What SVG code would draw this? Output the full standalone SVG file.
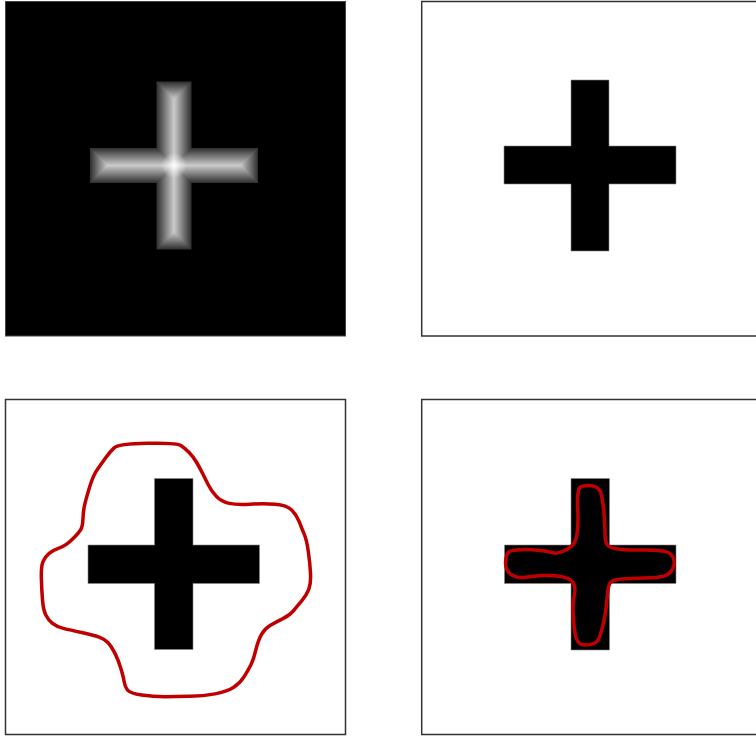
<svg xmlns="http://www.w3.org/2000/svg" width="756" height="736" viewBox="0 0 756 736">
<style>
.frame{fill:#fff;stroke:#333;stroke-width:1.5}
.cross{fill:#000;stroke:#888;stroke-width:0.6}
.contour{fill:none;stroke:#c00000;stroke-width:3.5;stroke-linejoin:round;stroke-linecap:round}
</style>
<defs>
<radialGradient id="glow" cx="174" cy="165.5" r="13" gradientUnits="userSpaceOnUse">
<stop offset="0" stop-color="#fff" stop-opacity="1"/>
<stop offset="0.5" stop-color="#fff" stop-opacity="0.45"/>
<stop offset="1" stop-color="#fff" stop-opacity="0"/>
</radialGradient>
</defs>
<rect width="756" height="736" fill="#fff"/>

<g id="panel-distance">
<rect x="5.5" y="1.5" width="340" height="334.5" fill="#000" stroke="#444" stroke-width="1"/>
<g id="dist-cross">
<path fill="#323232" d="M156.5 81.5h35v168h-35zM90 148h168v35h-168z"/>
<path fill="#3b3b3b" d="M157.5 82.5h33v166h-33zM91 149h166v33h-166z"/>
<path fill="#444444" d="M158.5 83.5h31v164h-31zM92 150h164v31h-164z"/>
<path fill="#4d4d4d" d="M159.5 84.5h29v162h-29zM93 151h162v29h-162z"/>
<path fill="#565656" d="M160.5 85.5h27v160h-27zM94 152h160v27h-160z"/>
<path fill="#5f5f5f" d="M161.5 86.5h25v158h-25zM95 153h158v25h-158z"/>
<path fill="#686868" d="M162.5 87.5h23v156h-23zM96 154h156v23h-156z"/>
<path fill="#717171" d="M163.5 88.5h21v154h-21zM97 155h154v21h-154z"/>
<path fill="#7a7a7a" d="M164.5 89.5h19v152h-19zM98 156h152v19h-152z"/>
<path fill="#838383" d="M165.5 90.5h17v150h-17zM99 157h150v17h-150z"/>
<path fill="#8c8c8c" d="M166.5 91.5h15v148h-15zM100 158h148v15h-148z"/>
<path fill="#959595" d="M167.5 92.5h13v146h-13zM101 159h146v13h-146z"/>
<path fill="#9e9e9e" d="M168.5 93.5h11v144h-11zM102 160h144v11h-144z"/>
<path fill="#a7a7a7" d="M169.5 94.5h9v142h-9zM103 161h142v9h-142z"/>
<path fill="#b0b0b0" d="M170.5 95.5h7v140h-7zM104 162h140v7h-140z"/>
<path fill="#b9b9b9" d="M171.5 96.5h5v138h-5zM105 163h138v5h-138z"/>
<path fill="#c2c2c2" d="M172.5 97.5h3v136h-3zM106 164h136v3h-136z"/>
<path fill="#cbcbcb" d="M173.5 98.5h1v134h-1zM107 165h134v1h-134z"/>
<circle cx="174" cy="165.5" r="13" fill="url(#glow)"/>
</g>
</g>

<g id="panel-binary">
<rect class="frame" x="421.7" y="1.5" width="340" height="334.5"/>
<path class="cross" d="M571 80h38v66h67v38h-67v67h-38v-67h-67v-38h67z"/>
</g>

<g id="panel-outer-contour">
<rect class="frame" x="5.5" y="399.5" width="340" height="335"/>
<path class="cross" d="M154.5 478.5h38.5v66.5h66.5v38.5h-66.5v66h-38.5v-66h-66.5v-38.5h66.5z"/>
<path class="contour" d="M114.15 447.85 Q118.3 444 147.5 443.35 Q176.7 442.7 180.85 445.5 Q185 448.3 189.15 452.5 Q193.3 456.7 196.65 462.5 Q200 468.3 202.5 473.3 Q205 478.3 208.35 485 Q211.7 491.7 216.7 496.7 Q221.7 501.7 229.2 503.35 Q236.7 505 250 504.15 Q263.3 503.3 275 504.15 Q286.7 505 291.7 510 Q296.7 515 299.2 521.65 Q301.7 528.3 304.2 534.15 Q306.7 540 308.35 551.65 Q310 563.3 310.5 573.3 Q311 583.3 308.85 589.15 Q306.7 595 301.7 600.85 Q296.7 606.7 293.35 610.85 Q290 615 283.35 618.35 Q276.7 621.7 270.85 625 Q265 628.3 261.65 634.15 Q258.3 640 255.8 650 Q253.3 660 250.8 665 Q248.3 670 244.15 676.65 Q240 683.3 233.35 687.5 Q226.7 691.7 215 693.85 Q203.3 696 190 696.35 Q176.7 696.7 165 696.7 Q153.3 696.7 141.65 695 Q130 693.3 127.5 690 Q125 686.7 124.15 681.7 Q123.3 676.7 120.8 668.35 Q118.3 660 115 653.35 Q111.7 646.7 108.35 643 Q105 639.3 99.15 637.15 Q93.3 635 81.65 632.5 Q70 630 63.35 628.35 Q56.7 626.7 52.5 623.35 Q48.3 620 45.8 615 Q43.3 610 42.5 600 Q41.7 590 41.35 578.35 Q41 566.7 43 561.7 Q45 556.7 49.15 553.35 Q53.3 550 58.3 548.35 Q63.3 546.7 66.65 544.2 Q70 541.7 74.15 537.5 Q78.3 533.3 80.5 530 Q82.7 526.7 83 518.35 Q83.3 510 85 503.35 Q86.7 496.7 90 485.85 Q93.3 475 97.5 469.15 Q101.7 463.3 105.85 457.5 Q110 451.7 114.15 447.85 Z"/>
</g>

<g id="panel-inner-contour">
<rect class="frame" x="421.7" y="399.5" width="340" height="335"/>
<path class="cross" d="M571 478.5h38.5v66.5h66.5v38.5h-66.5v66.5h-38.5v-66.5h-66.5v-38.5h66.5z"/>
<path class="contour" d="M579.15 488.35 Q580 486.7 585 485.85 Q590 485 595 486.65 Q600 488.3 601.65 495.8 Q603.3 503.3 604.15 515 Q605 526.7 605 534.2 Q605 541.7 607.5 545 Q610 548.3 620 549.15 Q630 550 645 550 Q660 550 665.85 551.65 Q671.7 553.3 673.35 558.3 Q675 563.3 673.35 567.5 Q671.7 571.7 667.5 574.5 Q663.3 577.3 650 577.8 Q636.7 578.3 625 578.8 Q613.3 579.3 610.8 582.15 Q608.3 585 607.5 594.15 Q606.7 603.3 605.85 610 Q605 616.7 603.35 623.35 Q601.7 630 600 635.85 Q598.3 641.7 594.15 643.35 Q590 645 585 645 Q580 645 577.5 640.85 Q575 636.7 574.15 626.7 Q573.3 616.7 573 610 Q572.7 603.3 574.35 595 Q576 586.7 573 582.5 Q570 578.3 561.65 576.65 Q553.3 575 543.3 575.5 Q533.3 576 525.8 577.15 Q518.3 578.3 513.3 575.8 Q508.3 573.3 506.65 569.15 Q505 565 505.85 559.15 Q506.7 553.3 509.2 551.65 Q511.7 550 520.85 549.65 Q530 549.3 540 550.5 Q550 551.7 553.35 552.85 Q556.7 554 563.35 551.15 Q570 548.3 573.35 544.15 Q576.7 540 577.5 530 Q578.3 520 577.8 510 Q577.3 500 577.8 495 Q578.3 490 579.15 488.35 Z"/>
</g>
</svg>
